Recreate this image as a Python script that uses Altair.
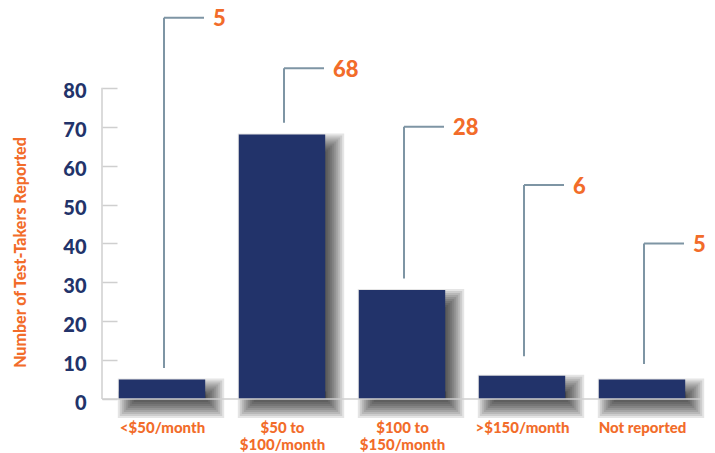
import altair as alt
import pandas as pd

categories = ["<$50/month", "$50 to\n$100/month", "$100 to\n$150/month", ">$150/month", "Not reported"]
counts = [5, 68, 28, 6, 5]
leader_bottom = [8, 71, 31, 11, 9]
leader_top = [98, 85, 70, 55, 40]
y_ticks = [0, 10, 20, 30, 40, 50, 60, 70, 80]
y_title = "Number of Test-Takers Reported"

df = pd.DataFrame({
    "cat": categories,
    "count": counts,
    "lb": leader_bottom,
    "lt": leader_top,
    "label": [str(c) for c in counts],
})

NAVY = "#22336a"
ORANGE = "#f26c2a"
LEADER = "#7e95a4"
AXISGRAY = "#cfcfcf"
FONT = "Lato"
W = 900

xscale = alt.Scale(domain=categories, paddingInner=0.28, paddingOuter=0.14)
yscale = alt.Scale(domain=[0, 100], nice=False)

xaxis = alt.Axis(
    title=None, labelExpr="split(datum.label, '\\n')", labelColor=ORANGE,
    labelFont=FONT, labelFontSize=15, labelFontWeight=W, labelAngle=0,
    labelPadding=21, labelLineHeight=17, domain=False, tickBand="extent",
    tickColor=AXISGRAY, tickSize=8, tickWidth=1.5, offset=-8,
)
yaxis = alt.Axis(
    title=y_title, values=y_ticks, domain=False, grid=False,
    tickSize=15, tickColor=AXISGRAY, tickWidth=1.5, offset=-15,
    labelPadding=16, labelOffset=4, labelColor=NAVY, labelFont=FONT, labelFontSize=20,
    labelFontWeight=W, titleColor=ORANGE, titleFont=FONT,
    titleFontSize=16, titleFontWeight=W, titleX=-97, titleY=242,
    titleAngle=270, titleAlign="center", titleBaseline="middle",
)

xenc = alt.X("cat:N", scale=xscale, axis=xaxis, sort=categories)
base = alt.Chart(df)

layers = []
for k in [-8, -6, -4, -2, 0, 2, 4, 6, 8, 10]:
    layers.append(
        base.mark_bar(color="black", opacity=0.1, width=86.4 + 2 * k,
                      xOffset=9, yOffset=9 - k, y2Offset=9 + k)
        .encode(x=xenc, y=alt.Y("count:Q", scale=yscale, axis=yaxis), y2=alt.datum(0))
    )

bars = base.mark_bar(color=NAVY).encode(
    x=xenc, y=alt.Y("count:Q", scale=yscale, axis=yaxis)
)

ydomain = alt.Chart(pd.DataFrame({"a": [0]})).mark_rule(color=AXISGRAY, strokeWidth=1.5).encode(
    x=alt.value(0), y=alt.datum(0), y2=alt.datum(80)
)
xdomain = alt.Chart(pd.DataFrame({"a": [0]})).mark_rule(color=AXISGRAY, strokeWidth=1.5).encode(
    x=alt.value(0), x2=alt.value(600), y=alt.datum(0)
)

vlines = base.mark_rule(color=LEADER, strokeWidth=2, xOffset=2).encode(
    x=xenc, y=alt.Y("lb:Q", scale=yscale, axis=yaxis), y2="lt:Q"
)
hlines = base.mark_tick(orient="horizontal", size=40, thickness=2, xOffset=22,
                        color=LEADER, opacity=1).encode(
    x=xenc, y=alt.Y("lt:Q", scale=yscale, axis=yaxis)
)
labels = base.mark_text(align="left", baseline="middle", dx=51, dy=1.5, color=ORANGE,
                        font=FONT, fontSize=22, fontWeight=W).encode(
    x=xenc, y=alt.Y("lt:Q", scale=yscale, axis=yaxis), text="label:N"
)

chart = alt.layer(*layers, bars, xdomain, ydomain, vlines, hlines, labels).properties(
    width=600, height=389,
    autosize=alt.AutoSizeParams(type="none"),
    padding={"left": 94, "top": 2, "right": 5, "bottom": 54},
    background="white",
).configure_view(stroke=None)

chart.save("out.html", embed_options={"renderer": "svg", "actions": False})
